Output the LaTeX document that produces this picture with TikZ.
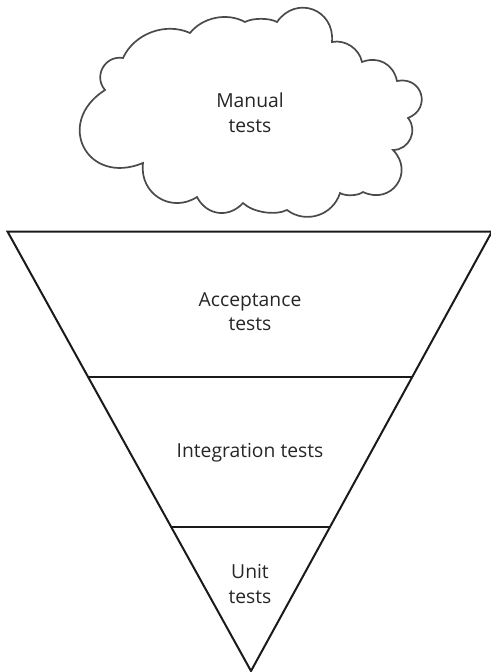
\documentclass[tikz,border=0pt]{standalone}
\usepackage{fontspec}
\setmainfont{Open Sans}
\usetikzlibrary{calc}
\definecolor{cloudgray}{HTML}{4A4A4A}
\definecolor{txtgray}{HTML}{262626}
\definecolor{linegray}{HTML}{1A1A1A}
\begin{document}
\begin{tikzpicture}[x=1pt,y=-1pt,
  lbl/.style={font=\fontsize{19.3}{24.5}\selectfont, text=txtgray, align=center, inner sep=0pt},
  tri/.style={line width=2pt, draw=linegray, line join=miter},
  cloudline/.style={line width=1.7pt, draw=cloudgray, line join=miter, fill=white}]
\useasboundingbox (0,0) rectangle (490,672);

% cloud
\draw[cloudline]
  (105,90) to[bend left=70, looseness=1.27] (123,58)
  to[bend left=45, looseness=0.96] (190,33)
  to[bend left=40, looseness=0.93] (245,22)
  to[bend left=30, looseness=0.68] (277,22)
  to[bend left=75, looseness=1.45] (332,42)
  to[bend left=45, looseness=0.96] (362,62)
  to[bend left=50, looseness=1.11] (397,81)
  to[bend left=85, looseness=1.71] (408,118)
  to[bend left=65, looseness=1.17] (393,150)
  to[bend left=80, looseness=1.56] (363,192)
  to[bend left=35, looseness=0.71] (340,193)
  to[bend left=55, looseness=1.08] (287,210)
  to[bend left=35, looseness=0.77] (243,203)
  to[bend left=55, looseness=1.16] (197,197)
  to[bend left=65, looseness=1.24] (143,163)
  to[bend left=85, looseness=1.88] cycle;

% funnel
\coordinate (tl) at (7.5,231.5);
\coordinate (tr) at (492,231.5);
\coordinate (ap) at (251,671);
\coordinate (l1) at ($(tl)!0.3304!(ap)$);
\coordinate (r1) at ($(tr)!0.3304!(ap)$);
\coordinate (l2) at ($(tl)!0.6717!(ap)$);
\coordinate (r2) at ($(tr)!0.6717!(ap)$);
\draw[tri] (tl) -- (tr) -- (ap) -- cycle;
\draw[tri] (l1) -- (r1);
\draw[tri] (l2) -- (r2);

% labels
\node[lbl] (manual) at (250,113) {Manual\\tests};
\node[lbl] (accept) at (250,311.5) {Acceptance\\tests};
\node[lbl, anchor=base] (integ) at (250,457) {Integration tests};
\node[lbl] (unit) at (250,584) {Unit\\tests};
\end{tikzpicture}
\end{document}
